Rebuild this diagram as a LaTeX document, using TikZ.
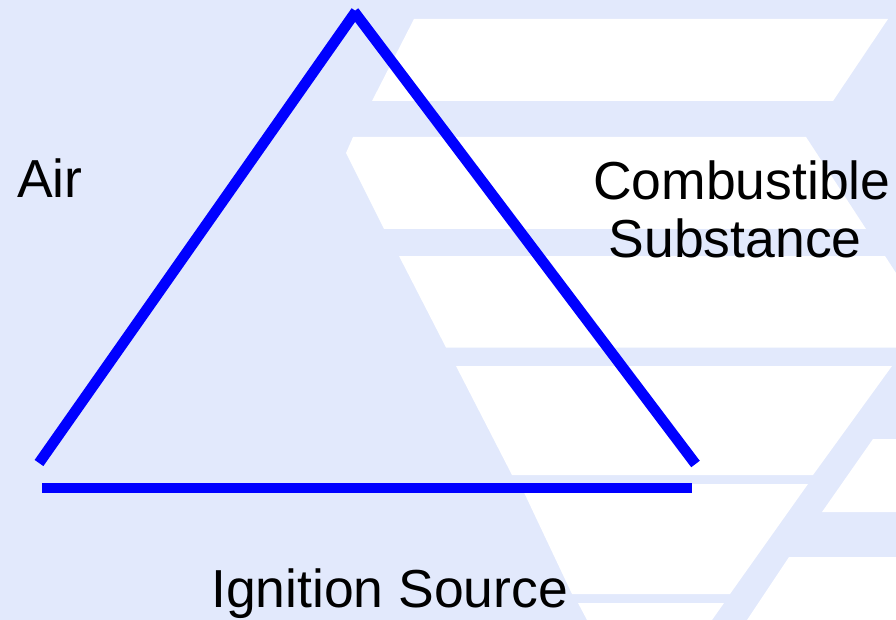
\documentclass[tikz,border=0pt]{standalone}
\usepackage{fontspec}
\setmainfont{Liberation Sans}
\definecolor{bgblue}{RGB}{226,233,252}
\definecolor{lineblue}{RGB}{0,0,255}
\tikzset{
  band/.style={fill=white, draw=none},
  side/.style={draw=lineblue, line width=10.7pt, line cap=butt},
  label/.style={inner sep=0pt, anchor=base west, text=black, font=\fontsize{53.5}{60}\selectfont}
}
\begin{document}
\begin{tikzpicture}[x=1pt,y=-1pt]
\useasboundingbox (0,0) rectangle (896,620);
\fill[bgblue] (0,0) rectangle (896,620);
% white bands
\fill[band] (414,19) -- (888,19) -- (833,101) -- (372,101) -- cycle;
\fill[band] (353,137) -- (806,137) -- (866,229) -- (384,229) -- (346,153) -- cycle;
\fill[band] (399,256) -- (885,256) -- (896,273) -- (896,347.5) -- (446,347.5) -- cycle;
\fill[band] (456,366) -- (892,366) -- (813,475) -- (512,475) -- cycle;
\fill[band] (873,439) -- (896,439) -- (896,512) -- (822,512) -- cycle;
\fill[band] (520,484) -- (808,484) -- (730,594) -- (572,594) -- cycle;
\fill[band] (789,557) -- (896,557) -- (896,620) -- (747,620) -- cycle;
\fill[band] (578,603) -- (724,603) -- (712,620) -- (587,620) -- cycle;
% triangle
\coordinate (airlow) at (39,463);
\coordinate (airtop) at (356,11.3);
\coordinate (combtop) at (354,11.5);
\coordinate (comblow) at (695.5,464);
\coordinate (ignleft) at (42,488);
\coordinate (ignright) at (691.7,488);
\draw[side] (airlow) -- (airtop);
\draw[side] (combtop) -- (comblow);
\draw[side] (ignleft) -- (ignright);
% labels
\node[label] (air) at (17,198) {Air};
\node[label] (comb1) at (593,199.5) {Combustible};
\node[label] (comb2) at (608.6,257.5) {Substance};
\node[label] (ign) at (211,607) {Ignition Source};
\end{tikzpicture}
\end{document}
